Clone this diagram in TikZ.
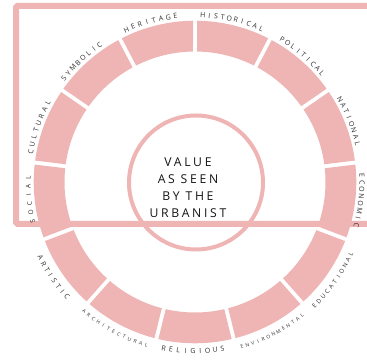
\documentclass[tikz,border=0pt]{standalone}
\usepackage{fontspec}
\setmainfont{Open Sans}
\definecolor{ringpink}{RGB}{239,181,181}
\definecolor{labelgray}{RGB}{45,45,45}
\definecolor{titlegray}{RGB}{20,20,20}

% one word set letter by letter round the ring:
% #1 centre angle, #2 step (negative = clockwise), #3 baseline radius, #4 font size, #5 letters
\newcommand{\ringword}[5]{%
  \foreach \ch [count=\n] in {#5} {\xdef\wordlen{\n}}%
  \foreach \ch [count=\k from 0, evaluate=\k as \ang using {#1+(\k-(\wordlen-1)/2)*(#2)}] in {#5}
    \node[ringtext, font=\fontsize{#4}{#4}\selectfont, rotate={\ang+90*sign(#2)}] at (\ang:#3) {\ch};%
}

\begin{document}
\begin{tikzpicture}[x=1pt,y=1pt,
  frame/.style={draw=ringpink, line width=6pt, rounded corners=1.5pt},
  ringtext/.style={text=labelgray, inner sep=0pt, anchor=base},
  hub/.style={circle, draw=ringpink, line width=4pt, minimum size=134pt, inner sep=0pt},
  titletext/.style={text=titlegray, align=center, inner sep=0pt,
    font=\fontsize{12.2}{17}\selectfont\addfontfeatures{LetterSpace=22}}]

\useasboundingbox (0,0) rectangle (367,363);
\clip (0,0) rectangle (367,363);

% Frame behind the wheel
\draw [frame] (16,139) rectangle (385,357.2);

% Ring of 13 segments
\begin{scope}[shift={(195,181)}]
\foreach \i in {0,...,12} {
  \pgfmathsetmacro{\a}{90+\i*360/13}
  \pgfmathsetmacro{\b}{\a+360/13}
  \fill [ringpink] (\a+0.71:161.3) arc [start angle=\a+0.71, end angle=\b-0.71, radius=161.3]
    -- (\b-0.88:130.5) arc [start angle=\b-0.88, end angle=\a+0.88, radius=130.5] -- cycle;
}

% Labels, upper half read clockwise
\ringword{105.5}{-2.5}{164.5}{7}{H,E,R,I,T,A,G,E}
\ringword{77}{-2.3}{164.5}{7}{H,I,S,T,O,R,I,C,A,L}
\ringword{49.5}{-2.25}{164.5}{7}{P,O,L,I,T,I,C,A,L}
\ringword{21.5}{-2.35}{164.5}{7}{N,A,T,I,O,N,A,L}
\ringword{-6.3}{-2.45}{164.5}{7}{E,C,O,N,O,M,I,C}
\ringword{133.3}{-2.4}{164.5}{7}{S,Y,M,B,O,L,I,C}
\ringword{160.7}{-2.55}{164.5}{7}{C,U,L,T,U,R,A,L}
\ringword{186}{-3.0}{164.5}{6.5}{S,O,C,I,A,L}

% Labels, lower half read counter-clockwise
\ringword{324.5}{2.1}{174}{6}{E,D,U,C,A,T,I,O,N,A,L}
\ringword{297.3}{1.9}{173}{5}{E,N,V,I,R,O,N,M,E,N,T,A,L}
\ringword{269.3}{2.5}{171.5}{7}{R,E,L,I,G,I,O,U,S}
\ringword{241.4}{2.0}{172}{5}{A,R,C,H,I,T,E,C,T,U,R,A,L}
\ringword{214}{2.25}{174.5}{7}{A,R,T,I,S,T,I,C}
\end{scope}

% Hub with title
\node [hub] (hub) at (196,180.5) {};
\node [titletext] (title) at (188,175) {VALUE\\AS SEEN\\BY THE\\URBANIST};

\end{tikzpicture}
\end{document}
